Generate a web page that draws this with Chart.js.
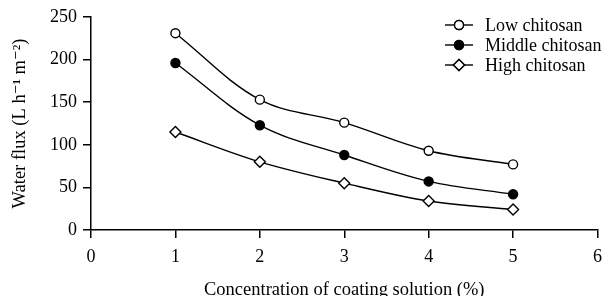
<!DOCTYPE html>
<html>
<head>
<meta charset="utf-8">
<script src="https://cdn.jsdelivr.net/npm/chart.js@4"></script>
<style>
  body { margin: 0; background: #fff; }
  #wrap { width: 610px; height: 296px; }
</style>
</head>
<body>
<div id="wrap"><canvas id="fluxChart" width="610" height="296"></canvas></div>
<script>
// concentration of coating solution (%)
const concentracion = [1, 2, 3, 4, 5];
const seriesNames = ['Low chitosan', 'Middle chitosan', 'High chitosan'];
const lowFlux = [231, 153, 126, 93, 77];
const middleFlux = [196, 123, 88, 57, 42];
const highFlux = [115, 80, 55, 34, 24];
const xTicks = [0, 1, 2, 3, 4, 5, 6];
const yTicks = [0, 50, 100, 150, 200, 250];

const serif = "'Liberation Serif', 'DejaVu Serif', serif";

const toPoints = (vals) => vals.map((v, i) => ({ x: concentracion[i], y: v }));

const estilo = [
  { pointStyle: 'circle', fill: '#fff', radius: 4.5 },
  { pointStyle: 'circle', fill: '#000', radius: 4.5 },
  { pointStyle: 'rectRot', fill: '#fff', radius: 5.5 },
];

const datasets = [lowFlux, middleFlux, highFlux].map((vals, i) => ({
  label: seriesNames[i],
  data: toPoints(vals),
  borderColor: '#000',
  borderWidth: 1.4,
  tension: 0.35,
  pointStyle: estilo[i].pointStyle,
  pointRadius: estilo[i].radius,
  pointBackgroundColor: estilo[i].fill,
  pointBorderColor: '#000',
  pointBorderWidth: 1.4,
}));

// legend drawn as line + marker, like the original figure
const leyenda = {
  id: 'leyenda',
  afterDraw(chart) {
    const ctx = chart.ctx;
    chart.data.datasets.forEach((ds, i) => {
      const y = 25 + i * 20;
      ctx.save();
      ctx.strokeStyle = '#000';
      ctx.lineWidth = 1.4;
      ctx.beginPath();
      ctx.moveTo(445, y);
      ctx.lineTo(473, y);
      ctx.stroke();
      Chart.helpers.drawPoint(ctx, {
        pointStyle: ds.pointStyle,
        radius: ds.pointRadius,
        borderWidth: ds.pointBorderWidth,
      }, 459, y);
      ctx.fillStyle = ds.pointBackgroundColor;
      ctx.fill();
      ctx.stroke();
      ctx.fillStyle = '#000';
      ctx.font = '18px ' + serif;
      ctx.textAlign = 'left';
      ctx.textBaseline = 'middle';
      ctx.fillText(ds.label, 485, y + 1);
      ctx.restore();
    });
  }
};

new Chart(document.getElementById('fluxChart'), {
  type: 'line',
  data: { datasets: datasets },
  plugins: [leyenda],
  options: {
    responsive: false,
    animation: false,
    layout: { padding: { top: 17, right: 6, left: 0, bottom: 0 } },
    plugins: { legend: { display: false }, tooltip: { enabled: false } },
    scales: {
      x: {
        type: 'linear',
        min: 0,
        max: 6,
        afterFit: (s) => { s.height = 66; },
        afterBuildTicks: (s) => { s.ticks = xTicks.map(v => ({ value: v })); },
        ticks: { color: '#000', font: { family: serif, size: 18 }, padding: 8 },
        grid: { drawOnChartArea: false, tickLength: 8, color: '#000', lineWidth: 1.5 },
        border: { color: '#000', width: 1.5 },
        title: {
          display: true,
          text: 'Concentration of coating solution (%)',
          color: '#000',
          font: { family: serif, size: 18.5 },
          padding: { top: 0, bottom: -5 }
        }
      },
      y: {
        min: 0,
        max: 250,
        afterFit: (s) => { s.width = 91; },
        afterBuildTicks: (s) => { s.ticks = yTicks.map(v => ({ value: v })); },
        ticks: { color: '#000', font: { family: serif, size: 18 }, padding: 6 },
        grid: { drawOnChartArea: false, tickLength: 8, color: '#000', lineWidth: 1.5 },
        border: { color: '#000', width: 1.5 },
        title: {
          display: true,
          text: 'Water flux (L h\u207B\u00B9 m\u207B\u00B2)',
          color: '#000',
          font: { family: serif, size: 18.5 },
          padding: { top: 9, bottom: 0 }
        }
      }
    }
  }
});
</script>
</body>
</html>
